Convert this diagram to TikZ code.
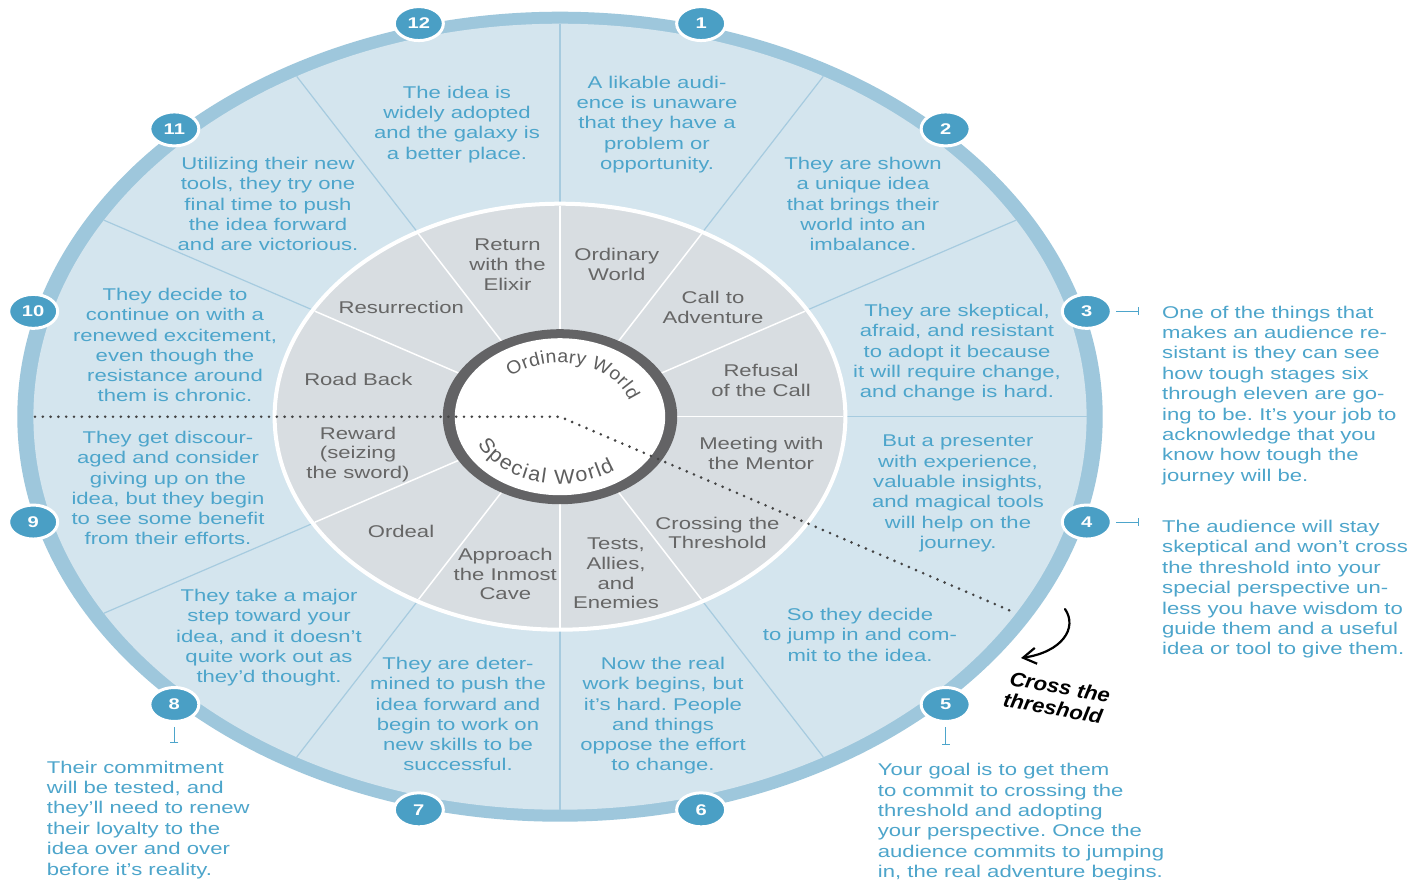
\documentclass[tikz,border=0pt]{standalone}
\usepackage{fontspec}
\setmainfont{Liberation Sans}[FakeStretch=1.3]
\newfontfamily\ctrfam{Liberation Sans}[FakeStretch=1.05]
\newfontfamily\handfam{Liberation Sans}[FakeStretch=1.1]
\usetikzlibrary{shapes.geometric,arrows.meta,decorations.text,calc}
\definecolor{bandc}{HTML}{9EC7DC}
\definecolor{diskc}{HTML}{D4E5EE}
\definecolor{badgec}{HTML}{4A9FC5}
\definecolor{otxt}{HTML}{4DA5CB}
\definecolor{rlinec}{HTML}{A6CBDF}
\definecolor{midc}{HTML}{D8DDE1}
\definecolor{mtxt}{HTML}{666666}
\definecolor{ctxt}{HTML}{5E5E5E}
\definecolor{ringc}{HTML}{636365}
\definecolor{dotc}{HTML}{444444}
\frenchspacing
\begin{document}
\begin{tikzpicture}[x=1pt,y=1pt,
  otext/.style={align=center, text=otxt, font=\fontsize{17}{20.3}\selectfont, inner sep=0pt, anchor=north},
  mtext/.style={align=center, text=mtxt, font=\fontsize{17}{19.6}\selectfont, inner sep=0pt, anchor=north},
  atext/.style={align=left, text=otxt, font=\fontsize{17}{20.4}\selectfont, inner sep=0pt, anchor=north west},
  badge/.style={ellipse, fill=badgec, draw=white, line width=3pt, minimum width=49pt, minimum height=34pt, inner sep=0pt, text=white, font=\fontsize{15.5}{15.5}\selectfont\bfseries},
  olinestyle/.style={draw=rlinec, line width=1.2pt},
  mlinestyle/.style={draw=white, line width=1.5pt},
  tick/.style={draw=otxt, line width=0.9pt, -{Bar[width=8pt]}},
  dots/.style={draw=dotc, line width=2.9pt, line cap=round, dash pattern=on 0pt off 7.8pt},
  hand/.style={rotate=-10, inner sep=0pt, font=\handfam\bfseries\itshape\fontsize{20}{20}\selectfont},
]
\useasboundingbox (0,0) rectangle (1428,-879);
\fill[white] (0,0) rectangle (1428,-879);
\coordinate (c) at (560,-416.7);
\begin{scope}[shift={(c)}]
 \fill[bandc] (0,0) ellipse [x radius=542.7, y radius=405];
 \fill[diskc] (0,0) ellipse [x radius=526.6, y radius=393];
 \foreach \a in {90,60,30,0,-60,-90,-120,-150,150,120}
   \draw[olinestyle] (\a:285 and 213) -- (\a:526.6 and 393);
 \filldraw[fill=midc, draw=white, line width=4pt] (0,0) ellipse [x radius=285.4, y radius=213];
 \foreach \a in {90,60,30,0,-60,-90,-120,-150,150,120}
   \draw[mlinestyle] (0,0) -- (\a:283 and 211);
 \fill[ringc] (0,0) ellipse [x radius=117.2, y radius=87.5];
 \fill[white] (0,0) ellipse [x radius=105.2, y radius=78.5];
 \coordinate (dl) at (-525,0);
 \coordinate (dr) at (-30:526.6 and 393);
 \node[badge] (b1) at (75:545.4 and 407) {1};
 \node[badge] (b2) at (45:545.4 and 407) {2};
 \node[badge] (b3) at (15:545.4 and 407) {3};
 \node[badge] (b4) at (-15:545.4 and 407) {4};
 \node[badge] (b5) at (-45:545.4 and 407) {5};
 \node[badge] (b6) at (-75:545.4 and 407) {6};
 \node[badge] (b7) at (-105:545.4 and 407) {7};
 \node[badge] (b8) at (-135:545.4 and 407) {8};
 \node[badge] (b9) at (-165:545.4 and 407) {9};
 \node[badge] (b10) at (165:545.4 and 407) {10};
 \node[badge] (b11) at (135:545.4 and 407) {11};
 \node[badge] (b12) at (105:545.4 and 407) {12};
\end{scope}
\draw[dots] (dl) -- (c) -- (dr);
% centre texts
\path[decorate, decoration={text along path, text align=fit to path, text color=ctxt,
  text={|\ctrfam\fontsize{18.5}{18.5}\selectfont|Ordinary World}}]
  ($(c)+(133:72.4 and 54)$) arc[start angle=133, end angle=17, x radius=72.4, y radius=54];
\path[decorate, decoration={text along path, text align=fit to path, text color=ctxt,
  text={|\ctrfam\fontsize{20.5}{20.5}\selectfont|Special World}}]
  ($(c)+(204:90 and 67)$) arc[start angle=204, end angle=307.7, x radius=90, y radius=67];
% outer sector texts
\node[otext] (s12) at (457,-85.6) {The idea is\\widely adopted\\and the galaxy is\\a better place.};
\node[otext] (s1) at (657,-75.6) {A likable audi-\\ence is unaware\\that they have a\\problem or\\opportunity.};
\node[otext] (s2) at (863,-156.9) {They are shown\\a unique idea\\that brings their\\world into an\\imbalance.};
\node[otext] (s3) at (957,-303.9) {They are skeptical,\\afraid, and resistant\\to adopt it because\\it will require change,\\and change is hard.};
\node[otext] (s4) at (958,-434.9) {But a presenter\\with experience,\\valuable insights,\\and magical tools\\will help on the\\journey.};
\node[otext] (s5) at (860,-607.9) {So they decide\\to jump in and com-\\mit to the idea.};
\node[otext] (s6) at (663,-656.9) {Now the real\\work begins, but\\it’s hard. People\\and things\\oppose the effort\\to change.};
\node[otext] (s7) at (458,-656.9) {They are deter-\\mined to push the\\idea forward and\\begin to work on\\new skills to be\\successful.};
\node[otext] (s8) at (269,-588.9) {They take a major\\step toward your\\idea, and it doesn’t\\quite work out as\\they’d thought.};
\node[otext] (s9) at (168,-430.9) {They get discour-\\aged and consider\\giving up on the\\idea, but they begin\\to see some benefit\\from their efforts.};
\node[otext] (s10) at (175,-287.9) {They decide to\\continue on with a\\renewed excitement,\\even though the\\resistance around\\them is chronic.};
\node[otext] (s11) at (268,-156.9) {Utilizing their new\\tools, they try one\\final time to push\\the idea forward\\and are victorious.};
% middle stage texts
\node[mtext] (m1) at (616.7,-248.2) {Ordinary\\World};
\node[mtext] (m2) at (713,-291.2) {Call to\\Adventure};
\node[mtext] (m3) at (761,-363.9) {Refusal\\of the Call};
\node[mtext] (m4) at (761.3,-437.2) {Meeting with\\the Mentor};
\node[mtext] (m5) at (717.5,-516.6) {Crossing the\\Threshold};
\node[mtext] (m6) at (616,-537.9) {Tests,\\Allies,\\and\\Enemies};
\node[mtext] (m7) at (505.3,-548.2) {Approach\\the Inmost\\Cave};
\node[mtext] (m8) at (401,-524.9) {Ordeal};
\node[mtext] (m9) at (358,-426.6) {Reward\\(seizing\\the sword)};
\node[mtext] (m10) at (358.3,-373.2) {Road Back};
\node[mtext] (m11) at (401.3,-300.6) {Resurrection};
\node[mtext] (m12) at (507.5,-238.9) {Return\\with the\\Elixir};
% annotations
\node[atext] (a3) at (1162,-305.6) {One of the things that\\makes an audience re-\\sistant is they can see\\how tough stages six\\through eleven are go-\\ing to be. It’s your job to\\acknowledge that you\\know how tough the\\journey will be.};
\node[atext] (a4) at (1162,-519.9) {The audience will stay\\skeptical and won’t cross\\the threshold into your\\special perspective un-\\less you have wisdom to\\guide them and a useful\\idea or tool to give them.};
\node[atext] (a5) at (877.7,-763.2) {Your goal is to get them\\to commit to crossing the\\threshold and adopting\\your perspective. Once the\\audience commits to jumping\\in, the real adventure begins.};
\node[atext] (a8) at (46.7,-760.6) {Their commitment\\will be tested, and\\they’ll need to renew\\their loyalty to the\\idea over and over\\before it’s reality.};
\draw[tick] ([xshift=3.5pt]b3.east) -- ([xshift=26pt]b3.east);
\draw[tick] ([xshift=3.5pt]b4.east) -- ([xshift=26pt]b4.east);
\draw[tick] ([yshift=-4pt]b5.south) -- ([yshift=-22pt]b5.south);
\draw[tick] ([yshift=-4pt]b8.south) -- ([yshift=-20pt]b8.south);
% hand-drawn arrow and label
\coordinate (hs) at (1065,-609);
\coordinate (he) at (1021,-658);
\draw[black, line width=2.2pt, line cap=round, -{Straight Barb[length=13pt,width=16pt]}] (hs) .. controls (1078,-628) and (1062,-652) .. (he);
\node[hand] (ct1) at (1060,-687) {Cross the};
\node[hand] (ct2) at (1053,-708) {threshold};
\end{tikzpicture}
\end{document}
